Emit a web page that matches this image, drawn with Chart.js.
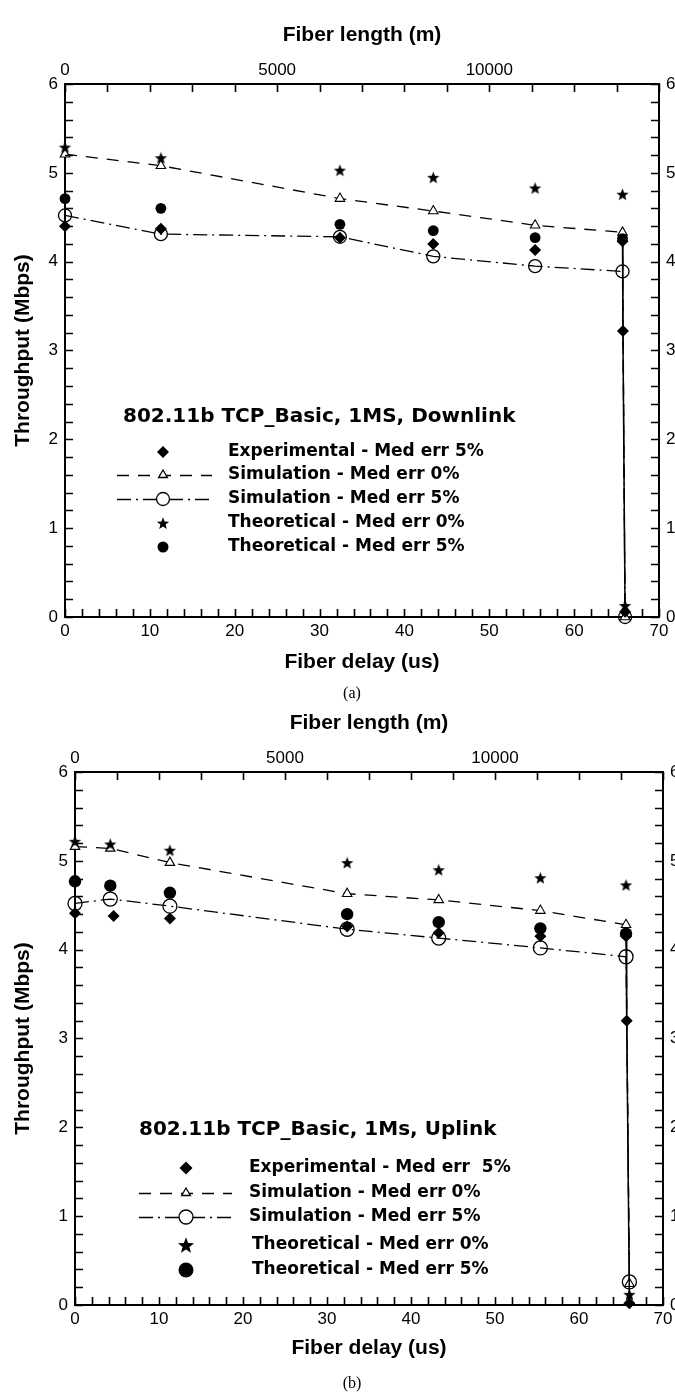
<!DOCTYPE html>
<html>
<head>
<meta charset="utf-8">
<script src="https://cdn.jsdelivr.net/npm/chart.js@4.4.1/dist/chart.umd.min.js"></script>
<style>
html,body{margin:0;padding:0;background:#fff;}
#wrap{position:relative;width:675px;height:1395px;overflow:hidden;background:#fff;}
canvas{position:absolute;left:0;}
#ca{top:0;}
#cb{top:700px;}
.cap{position:absolute;font-family:"Liberation Serif","Times New Roman",serif;font-size:16px;color:#000;transform:translate(-50%,-50%);z-index:5;}
</style>
</head>
<body>
<div id="wrap">
  <canvas id="ca" width="700" height="680" style="width:700px;height:680px"></canvas>
  <canvas id="cb" width="700" height="680" style="width:700px;height:680px"></canvas>
  <div class="cap" style="left:352px;top:693px">(a)</div>
  <div class="cap" style="left:352px;top:1383px">(b)</div>
</div>
<script>
// ---------------- tick labels ----------------
const delayTicks = [0, 10, 20, 30, 40, 50, 60, 70];
const lengthTicks = [0, 5000, 10000];
const throughputTicks = [0, 1, 2, 3, 4, 5, 6];

// ---------------- panel (a) : Downlink ----------------
const a_expX  = [0, 11.3, 32.4, 43.4, 55.4, 65.7, 65.75, 66.0];
const a_expY  = [4.40, 4.37, 4.27, 4.20, 4.13, 4.23, 3.22, 0.06];
const a_simX  = [0, 11.3, 32.4, 43.4, 55.4, 65.7, 66.0];
const a_sim0Y = [5.21, 5.08, 4.71, 4.57, 4.41, 4.33, 0.0];
const a_sim5Y = [4.52, 4.31, 4.28, 4.06, 3.95, 3.89, 0.0];
const a_th0X  = [0, 11.3, 32.4, 43.4, 55.4, 65.7, 66.0];
const a_th0Y  = [5.29, 5.17, 5.03, 4.95, 4.83, 4.76, 0.13];
const a_th5X  = [0, 11.3, 32.4, 43.4, 55.4, 65.7];
const a_th5Y  = [4.71, 4.60, 4.42, 4.35, 4.27, 4.26];
const a_legendTitle = '802.11b TCP_Basic, 1MS, Downlink';
const a_legendLabels = ['Experimental - Med err 5%', 'Simulation - Med err 0%', 'Simulation - Med err 5%', 'Theoretical - Med err 0%', 'Theoretical - Med err 5%'];

// ---------------- panel (b) : Uplink ----------------
const b_expX  = [0, 4.6, 11.3, 32.4, 43.3, 55.4, 65.6, 65.68, 66.0];
const b_expY  = [4.41, 4.38, 4.35, 4.26, 4.19, 4.15, 4.15, 3.20, 0.02];
const b_simX  = [0, 4.2, 11.3, 32.4, 43.3, 55.4, 65.6, 66.0];
const b_sim0Y = [5.16, 5.14, 4.98, 4.63, 4.56, 4.44, 4.28, 0.24];
const b_sim5Y = [4.52, 4.57, 4.49, 4.23, 4.13, 4.02, 3.92, 0.26];
const b_th0X  = [0, 4.2, 11.3, 32.4, 43.3, 55.4, 65.6, 66.0];
const b_th0Y  = [5.22, 5.19, 5.12, 4.98, 4.90, 4.81, 4.73, 0.12];
const b_th5X  = [0, 4.2, 11.3, 32.4, 43.3, 55.4, 65.6];
const b_th5Y  = [4.77, 4.72, 4.64, 4.40, 4.31, 4.24, 4.18];
const b_legendTitle = '802.11b TCP_Basic, 1Ms, Uplink';
const b_legendLabels = ['Experimental - Med err  5%', 'Simulation - Med err 0%', 'Simulation - Med err 5%', 'Theoretical - Med err 0%', 'Theoretical - Med err 5%'];

// ---------------- helpers ----------------
function pts(xs, ys) { return xs.map((x, i) => ({x: x, y: ys[i]})); }

function starPath(g, cx, cy, R, r) {
  g.beginPath();
  for (let i = 0; i < 10; i++) {
    const ang = -Math.PI / 2 + i * Math.PI / 5;
    const rad = (i % 2 === 0) ? R : r;
    const px = cx + rad * Math.cos(ang), py = cy + rad * Math.sin(ang);
    if (i === 0) g.moveTo(px, py); else g.lineTo(px, py);
  }
  g.closePath();
}
function starImage(R) {
  const c = document.createElement('canvas');
  const s = Math.ceil(2 * R + 2);
  c.width = s; c.height = s;
  const g = c.getContext('2d');
  starPath(g, s / 2, s / 2 + R * 0.1, R, R * 0.42);
  g.fillStyle = '#000'; g.fill();
  return c;
}

const DASH0 = [12, 9];
const DASH5 = [14, 5, 2, 5];

function drawMarker(ctx, kind, x, y, s) {
  ctx.save();
  ctx.lineWidth = 1.3; ctx.strokeStyle = '#000'; ctx.setLineDash([]);
  if (kind === 'diamond') {
    ctx.beginPath(); ctx.moveTo(x, y - s); ctx.lineTo(x + s, y); ctx.lineTo(x, y + s); ctx.lineTo(x - s, y); ctx.closePath();
    ctx.fillStyle = '#000'; ctx.fill();
  } else if (kind === 'triangle') {
    ctx.beginPath();
    ctx.moveTo(x, y - s);
    ctx.lineTo(x + s * Math.sin(2 * Math.PI / 3), y - s * Math.cos(2 * Math.PI / 3));
    ctx.lineTo(x - s * Math.sin(2 * Math.PI / 3), y - s * Math.cos(2 * Math.PI / 3));
    ctx.closePath(); ctx.fillStyle = '#fff'; ctx.fill(); ctx.stroke();
  } else if (kind === 'open') {
    ctx.beginPath(); ctx.arc(x, y, s, 0, Math.PI * 2); ctx.fillStyle = '#fff'; ctx.fill(); ctx.stroke();
  } else if (kind === 'star') {
    starPath(ctx, x, y + s * 0.1, s, s * 0.42); ctx.fillStyle = '#000'; ctx.fill();
  } else if (kind === 'dot') {
    ctx.beginPath(); ctx.arc(x, y, s, 0, Math.PI * 2); ctx.fillStyle = '#000'; ctx.fill();
  }
  ctx.restore();
}

// inward tick marks on all four sides, placed through the chart scales
const inwardTicks = {
  id: 'inwardTicks',
  afterDatasetsDraw(chart, args, o) {
    const {ctx, chartArea: ca, scales} = chart;
    const L = o.len;
    ctx.save();
    ctx.strokeStyle = '#000'; ctx.lineWidth = 1.6; ctx.setLineDash([]);
    ctx.beginPath();
    for (let v = 0; v <= 70 + 1e-9; v += 2) { const p = Math.round(scales.x.getPixelForValue(v)) + 0.5; ctx.moveTo(p, ca.bottom); ctx.lineTo(p, ca.bottom - L); }
    for (let v = 0; v <= 14000 + 1e-9; v += 1000) { const p = Math.round(scales.x2.getPixelForValue(v)) + 0.5; ctx.moveTo(p, ca.top); ctx.lineTo(p, ca.top + L); }
    for (let v = 0; v <= 6 + 1e-9; v += 0.2) {
      const p = Math.round(scales.y.getPixelForValue(v)) + 0.5;
      ctx.moveTo(ca.left, p); ctx.lineTo(ca.left + L, p);
      ctx.moveTo(ca.right, p); ctx.lineTo(ca.right - L, p);
    }
    ctx.stroke();
    ctx.restore();
  }
};

// in-plot legend block
const blockLegend = {
  id: 'blockLegend',
  afterDraw(chart, args, o) {
    const ctx = chart.ctx;
    ctx.save();
    ctx.fillStyle = '#000';
    ctx.textBaseline = 'middle';
    ctx.textAlign = 'left';
    ctx.font = 'bold ' + o.titleSize + 'px "DejaVu Sans"';
    ctx.fillText(o.title, o.titleX, o.titleY);
    ctx.font = 'bold ' + o.textSize + 'px "DejaVu Sans"';
    const kinds = ['diamond', 'triangle', 'open', 'star', 'dot'];
    o.labels.forEach((lab, i) => {
      const y = o.rows[i];
      if (i === 1 || i === 2) {
        ctx.save();
        ctx.strokeStyle = '#000'; ctx.lineWidth = 1.3;
        ctx.setLineDash(i === 1 ? o.dash0 : o.dash5);
        ctx.beginPath(); ctx.moveTo(o.lineX0, y + 0.5); ctx.lineTo(o.lineX1, y + 0.5); ctx.stroke();
        ctx.restore();
      }
      drawMarker(ctx, kinds[i], o.markerX, y, o.sizes[i]);
      ctx.fillStyle = '#000';
      ctx.fillText(lab, o.textX[i], y);
    });
    ctx.restore();
  }
};

const tickFont = {family: '"Liberation Sans", Arial, sans-serif', size: 17};
const titleFont = {family: '"Liberation Sans", Arial, sans-serif', size: 21, weight: 'bold'};
const plainLabel = v => String(v);

function makeChart(id, d, g, leg) {
  const datasets = [
    {label: 'Theoretical - Med err 0%', data: pts(d.th0X, d.th0Y), showLine: false,
     pointStyle: starImage(g.star), pointRadius: g.star, order: 0},
    {label: 'Theoretical - Med err 5%', data: pts(d.th5X, d.th5Y), showLine: false,
     pointStyle: 'circle', pointRadius: g.dot, pointBackgroundColor: '#000', pointBorderColor: '#000', pointBorderWidth: 0, order: 1},
    {label: 'Experimental - Med err 5%', data: pts(d.expX, d.expY), showLine: true,
     borderColor: '#000', borderWidth: 1.5,
     // only the steep drop at the cut-off delay is joined by a solid line
     segment: {borderColor: c => (c.p1.parsed.x - c.p0.parsed.x) < 0.5 ? '#000' : 'rgba(0,0,0,0)'},
     pointStyle: 'rectRot', pointRadius: g.dia, pointBackgroundColor: '#000', pointBorderColor: '#000', pointBorderWidth: 0, order: 2},
    {label: 'Simulation - Med err 5%', data: pts(d.simX, d.sim5Y), showLine: true,
     borderColor: '#000', borderWidth: 1.3, borderDash: DASH5,
     pointStyle: 'circle', pointRadius: g.open, pointBackgroundColor: 'rgba(255,255,255,0)', pointBorderColor: '#000', pointBorderWidth: 1.3, order: 3},
    {label: 'Simulation - Med err 0%', data: pts(d.simX, d.sim0Y), showLine: true,
     borderColor: '#000', borderWidth: 1.3, borderDash: DASH0,
     pointStyle: 'triangle', pointRadius: g.tri, pointBackgroundColor: '#fff', pointBorderColor: '#000', pointBorderWidth: 1.1, order: 4}
  ];
  datasets.forEach(ds => { ds.clip = false; ds.tension = 0; ds.fill = false; ds.pointHoverRadius = ds.pointRadius; ds.xAxisID = 'x'; ds.yAxisID = 'y'; });

  const common = {
    grid: {display: false, drawTicks: false},
    border: {display: true, color: '#000', width: 2},
  };
  return new Chart(document.getElementById(id), {
    type: 'scatter',
    data: {datasets: datasets},
    options: {
      responsive: false, animation: false, events: [],
      layout: {padding: 0},
      plugins: {
        legend: {display: false}, tooltip: {enabled: false},
        inwardTicks: {len: 8},
        blockLegend: leg
      },
      scales: {
        x: Object.assign({}, common, {
          type: 'linear', position: 'bottom', min: 0, max: 70,
          afterBuildTicks: s => { s.ticks = delayTicks.map(v => ({value: v})); },
          afterFit: s => { s.height = g.H - g.bottom; },
          ticks: {font: tickFont, color: '#000', padding: 4, maxRotation: 0, autoSkip: false, callback: plainLabel},
          title: {display: true, text: 'Fiber delay (us)', font: titleFont, color: '#000', padding: {top: 0, bottom: g.bottomTitlePad}}
        }),
        x2: Object.assign({}, common, {
          type: 'linear', position: 'top', min: 0, max: 14000,
          afterBuildTicks: s => { s.ticks = lengthTicks.map(v => ({value: v})); },
          afterFit: s => { s.height = g.top; },
          ticks: {font: tickFont, color: '#000', padding: 3, maxRotation: 0, autoSkip: false, callback: plainLabel},
          title: {display: true, text: 'Fiber length (m)', font: titleFont, color: '#000', padding: {top: g.topTitlePad, bottom: 0}}
        }),
        y: Object.assign({}, common, {
          type: 'linear', position: 'left', min: 0, max: 6,
          afterBuildTicks: s => { s.ticks = throughputTicks.map(v => ({value: v})); },
          afterFit: s => { s.width = g.left; },
          ticks: {font: tickFont, color: '#000', padding: 7, autoSkip: false, callback: plainLabel},
          title: {display: true, text: 'Throughput (Mbps)', font: titleFont, color: '#000', padding: {top: 10.4, bottom: 0}}
        }),
        y2: Object.assign({}, common, {
          type: 'linear', position: 'right', min: 0, max: 6,
          afterBuildTicks: s => { s.ticks = throughputTicks.map(v => ({value: v})); },
          afterFit: s => { s.width = g.W - g.right; },
          ticks: {font: tickFont, color: '#000', padding: 7, autoSkip: false, callback: plainLabel}
        })
      }
    },
    plugins: [inwardTicks, blockLegend]
  });
}

makeChart('ca',
  {expX: a_expX, expY: a_expY, simX: a_simX, sim0Y: a_sim0Y, sim5Y: a_sim5Y, th0X: a_th0X, th0Y: a_th0Y, th5X: a_th5X, th5Y: a_th5Y},
  {W: 700, H: 680, left: 65, right: 659, top: 84, bottom: 617, topTitlePad: 22.4, bottomTitlePad: 5.4,
   star: 6.5, dot: 5.4, dia: 6, open: 6.5, tri: 5.5},
  {title: a_legendTitle, labels: a_legendLabels, titleSize: 20, textSize: 17,
   titleX: 123, titleY: 417, rows: [452, 475, 499, 523, 547],
   markerX: 163, lineX0: 117, lineX1: 212, textX: [228, 228, 228, 228, 228],
   sizes: [6, 5, 6.5, 6.5, 5.5], dash0: DASH0, dash5: DASH5});

makeChart('cb',
  {expX: b_expX, expY: b_expY, simX: b_simX, sim0Y: b_sim0Y, sim5Y: b_sim5Y, th0X: b_th0X, th0Y: b_th0Y, th5X: b_th5X, th5Y: b_th5Y},
  {W: 700, H: 680, left: 75, right: 663, top: 72, bottom: 605, topTitlePad: 10.4, bottomTitlePad: 19.4,
   star: 6.5, dot: 6.2, dia: 6, open: 7, tri: 5.5},
  {title: b_legendTitle, labels: b_legendLabels, titleSize: 20, textSize: 17,
   titleX: 139, titleY: 430, rows: [468, 493, 517, 545, 570],
   markerX: 186, lineX0: 139, lineX1: 232, textX: [249, 249, 249, 252, 252],
   sizes: [6.5, 5, 7, 8.5, 7.5], dash0: DASH0, dash5: DASH5});
</script>
</body>
</html>
